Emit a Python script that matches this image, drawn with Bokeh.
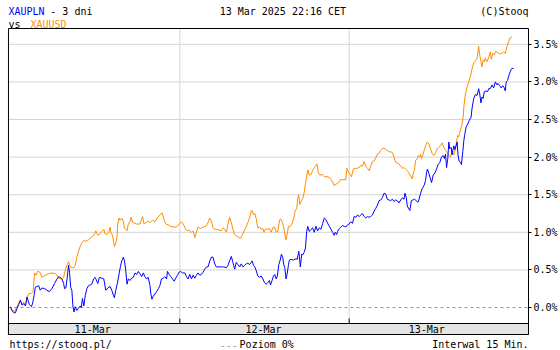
from bokeh.plotting import figure
from bokeh.models import Range1d, LinearAxis, FixedTicker, PrintfTickFormatter
from bokeh.embed import file_html
from bokeh.resources import INLINE
from bokeh.core.properties import value

# ---------------- data (x = 15-minute bar index since 11-Mar open, y = % change) ----
xauusd_bar = [
    0.0, 0.9, 2.4, 3.8, 4.7, 5.6, 6.6, 7.5, 8.5, 9.4, 10.4, 11.9, 12.8, 13.7, 14.5, 15.4, 16.6, 17.9,
    19.8, 21.6, 23.5, 25.4, 26.4, 27.3, 29.2, 30.1, 31.1, 32.0, 32.9, 33.9, 34.8, 35.8, 36.7, 37.6,
    38.6, 39.5, 40.5, 41.4, 42.4, 44.2, 46.1, 47.6, 48.4, 49.5, 50.8, 52.1, 52.9, 53.6, 54.6, 55.9,
    56.5, 57.0, 57.8, 58.4, 58.9, 59.7, 60.4, 60.8, 61.6, 62.1, 63.1, 64.0, 64.6, 65.3, 66.1, 66.8,
    67.8, 68.3, 69.3,
    69.6, 71.5, 73.4, 74.9, 75.7, 76.8, 78.1, 79.1, 80.6, 81.9, 83.2, 84.7, 86.0, 87.0, 88.1, 89.4,
    90.7, 92.2, 94.1, 95.6, 96.9, 97.9, 99.4, 100.1, 101.3, 102.6, 103.5, 104.5, 105.4, 106.3, 107.7,
    109.2, 110.7, 112.0, 112.9, 113.9, 114.8, 115.8, 116.7, 118.2, 119.5, 120.5, 121.4, 122.4, 123.3,
    124.2, 125.2, 126.1, 127.1, 128.0, 128.9, 130.3, 131.4, 132.7, 133.6, 134.6, 135.5, 136.5, 137.0,
    137.8, 138.5,
    139.3, 140.2, 141.2, 142.1, 143.1, 143.6, 144.4, 145.5, 146.8, 147.8, 148.7, 149.7, 150.6, 151.5,
    152.5, 153.0, 153.8, 154.9, 155.7, 156.2, 156.8, 157.6, 158.7, 159.4, 160.6, 161.3, 162.3, 162.8,
    163.4, 164.0, 164.7, 165.7, 166.6, 167.2, 167.9, 168.5, 169.4, 170.4, 171.3, 172.2, 173.2, 173.7,
    174.5, 175.4, 176.6, 177.9, 179.4, 180.7, 181.7, 182.6, 183.5, 184.5, 185.4, 186.4, 186.9, 188.2,
    190.1, 190.7, 191.6, 192.6, 193.3, 194.1, 194.8, 196.3, 197.7, 198.6, 199.5, 200.5, 201.4, 202.4,
    203.3, 204.2, 205.2, 206.1, 207.1, 208.0, 208.9,
    209.9, 210.8, 211.8, 212.7, 213.6, 214.6, 215.5, 216.5, 217.4, 218.4, 219.3, 220.2, 221.2, 222.1,
    223.1, 224.0, 224.9, 225.9, 226.8, 227.8, 228.3, 229.1, 229.6, 230.6, 231.2, 231.9, 232.5, 233.0,
    233.8, 234.5, 235.3, 236.2, 237.2, 238.1, 239.1, 240.0, 241.0, 241.9, 242.8, 243.8, 244.7, 245.6,
    246.6, 247.5, 248.5, 249.4, 250.3, 251.3, 252.2, 252.8, 253.6, 254.1, 254.7, 255.4, 256.0, 256.6,
    257.1, 257.9, 258.8, 259.8, 260.7, 261.6, 262.6, 263.5, 264.5, 265.4, 266.0, 266.7, 267.3, 267.9,
    268.6, 269.2, 270.1, 271.1, 272.0, 272.6, 273.3, 274.3, 275.2, 276.1, 277.1, 278.0, 278.6, 279.5,
    280.5, 281.4, 282.4, 283.3, 284.2,
]
xauusd_pct = [
    0.00, -0.04, -0.05, 0.02, 0.06, 0.09, 0.04, 0.07, 0.03, 0.14, 0.18, 0.19, 0.21, 0.46, 0.43, 0.48,
    0.47, 0.40, 0.43, 0.45, 0.46, 0.45, 0.43, 0.39, 0.38, 0.40, 0.50, 0.56, 0.61, 0.54, 0.53, 0.53,
    0.56, 0.67, 0.75, 0.81, 0.86, 0.89, 0.88, 0.90, 0.94, 0.97, 1.02, 0.96, 0.98, 1.02, 1.04, 0.98,
    0.97, 1.01, 1.07, 0.98, 0.97, 0.88, 0.81, 0.86, 0.94, 1.11, 1.19, 1.16, 1.19, 1.15, 1.06, 1.04,
    1.02, 1.11, 1.14, 1.20, 1.13,
    1.13, 1.11, 1.11, 1.21, 1.11, 1.13, 1.15, 1.13, 1.16, 1.14, 1.19, 1.23, 1.26, 1.17, 1.11, 1.10,
    1.08, 1.07, 1.07, 1.11, 1.14, 1.11, 1.04, 1.02, 1.03, 1.00, 1.02, 0.93, 1.00, 1.07, 1.05, 1.07,
    1.08, 1.13, 1.19, 1.15, 1.06, 1.04, 1.04, 1.03, 1.02, 1.06, 1.04, 1.00, 1.11, 1.20, 1.13, 1.04,
    0.97, 0.95, 0.94, 0.92, 0.96, 1.03, 1.07, 1.13, 1.19, 1.28, 1.29, 1.23, 1.25,
    1.18, 1.06, 1.07, 1.04, 1.05, 1.00, 1.04, 1.04, 1.05, 1.00, 1.06, 1.07, 1.00, 1.01, 1.15, 1.18,
    1.15, 1.07, 0.95, 0.90, 0.97, 1.08, 1.08, 1.10, 1.19, 1.28, 1.32, 1.45, 1.50, 1.37, 1.41, 1.45,
    1.54, 1.65, 1.74, 1.83, 1.76, 1.77, 1.82, 1.86, 1.89, 1.91, 1.79, 1.76, 1.77, 1.74, 1.74, 1.73,
    1.70, 1.67, 1.62, 1.64, 1.65, 1.67, 1.70, 1.70, 1.70, 1.85, 1.80, 1.77, 1.74, 1.82, 1.85, 1.85,
    1.86, 1.89, 1.88, 1.94, 1.88, 1.85, 1.82, 1.88, 1.94, 1.95, 1.99, 2.04, 2.05,
    2.09, 2.11, 2.12, 2.10, 2.09, 2.07, 2.07, 2.06, 2.00, 1.93, 1.92, 1.91, 1.88, 1.85, 1.86, 1.84,
    1.82, 1.79, 1.75, 1.71, 1.78, 1.84, 1.95, 1.98, 2.02, 2.00, 2.04, 1.98, 2.03, 2.09, 2.15, 2.20,
    2.18, 2.11, 2.04, 2.02, 2.06, 2.11, 2.13, 2.15, 2.19, 2.13, 2.09, 2.06, 2.02, 2.00, 2.08, 2.03,
    2.11, 2.20, 2.29, 2.27, 2.33, 2.39, 2.44, 2.53, 2.69, 2.84, 2.93, 3.00, 3.07, 3.17, 3.25, 3.28,
    3.31, 3.47, 3.36, 3.27, 3.20, 3.29, 3.27, 3.32, 3.27, 3.32, 3.40, 3.30, 3.38, 3.36, 3.41, 3.39,
    3.38, 3.37, 3.38, 3.40, 3.38, 3.47, 3.54, 3.59, 3.60,
]

xaupln_bar = [
    0.0, 0.9, 1.9, 2.8, 3.8, 4.7, 5.6, 6.6, 7.5, 8.5, 9.4, 10.0, 10.7, 11.9, 12.6, 13.4, 14.1, 15.1,
    16.0, 16.9, 17.9, 19.4, 20.7, 22.0, 23.5, 25.0, 26.4, 27.3, 28.2, 29.2, 30.1, 30.7, 31.4, 32.2,
    32.9, 33.5, 34.1, 34.8, 35.4, 36.0, 36.7, 37.6, 38.6, 39.5, 40.1, 40.8, 41.6, 42.4, 43.3, 44.2,
    45.2, 46.1, 47.1, 48.0, 48.6, 49.5, 50.4, 51.8, 52.9, 54.0, 55.2, 56.5, 57.4, 58.4, 58.9, 59.7,
    60.6, 61.6, 62.3, 63.1, 64.0, 64.6, 65.3, 66.1, 66.8, 67.8, 68.7, 69.6,
    70.6, 71.5, 72.5, 73.4, 74.4, 75.3, 76.2, 77.2, 78.1, 79.1, 79.6, 80.2, 80.9, 81.9, 82.8, 83.8,
    84.7, 85.6, 86.6, 87.5, 88.5, 89.0, 90.0, 90.9, 91.9, 92.8, 93.7, 94.7, 95.6, 96.4, 97.5, 98.8,
    99.8, 100.7, 101.6, 102.6, 103.5, 104.5, 105.4, 106.3, 107.3, 108.2, 109.2, 110.1, 111.1, 112.0,
    113.0, 113.9, 114.8, 115.8, 116.7, 118.2, 119.5, 120.8, 122.4, 123.3, 124.2, 125.2, 126.1, 127.1,
    128.0, 128.9, 129.9, 130.8, 131.8, 132.7, 133.6, 134.6, 135.5, 136.5, 137.0, 137.8, 138.5, 139.3,
    140.2, 141.2, 142.1, 143.1, 144.0, 144.9, 145.9, 146.8, 147.4, 148.3, 149.1, 149.8, 150.6, 151.3,
    152.1, 152.9, 153.6, 154.4, 154.9, 155.5, 156.2, 156.8, 157.6, 158.1, 159.1, 160.4, 161.9, 162.6,
    163.4, 163.8, 164.3, 165.1, 165.7, 166.4, 167.2, 167.9, 168.5, 169.4, 170.4, 171.3, 172.2, 173.2,
    174.1, 175.1, 176.0, 177.0, 177.9, 178.8, 179.8, 180.7, 181.7, 182.6, 183.5, 184.1, 184.9, 185.4,
    186.4, 187.3, 188.2, 189.2, 190.1, 191.1, 192.0, 192.9, 193.9, 194.8, 195.8, 196.7, 197.7, 198.6,
    199.5, 200.5, 201.4, 202.4, 203.3, 204.2, 205.2, 206.1, 207.1, 208.0, 208.9,
    209.9, 210.8, 211.8, 212.7, 213.6, 214.6, 215.5, 216.5, 217.4, 218.4, 219.3, 220.2, 221.2, 222.1,
    223.1, 223.6, 224.4, 224.9, 225.9, 226.4, 227.2, 228.1, 229.1, 230.0, 231.0, 231.5, 232.5, 233.4,
    234.4, 235.3, 235.9, 236.4, 237.2, 238.1, 238.7, 239.6, 240.6, 241.5, 242.4, 243.4, 244.3, 245.3,
    246.0, 246.6, 247.2, 247.9, 248.5, 249.0, 249.8, 250.3, 251.3, 251.9, 252.6, 253.2, 253.7, 254.3,
    255.1, 255.6, 256.4, 257.0, 257.5, 258.3, 259.2, 260.1, 261.1, 261.6, 262.6, 263.5, 264.5, 265.4,
    266.0, 266.7, 267.3, 267.9, 268.6, 269.6, 270.5, 271.1, 272.0, 273.0, 273.9, 274.8, 275.8, 276.3,
    277.3, 278.2, 279.0, 279.7, 280.5, 281.0, 281.8, 282.7, 283.7, 284.2, 285.2,
]
xaupln_pct = [
    0.01, -0.04, -0.07, -0.07, -0.01, 0.04, 0.10, 0.03, 0.05, 0.02, 0.14, 0.09, 0.04, 0.01, 0.06, 0.16,
    0.27, 0.28, 0.29, 0.23, 0.26, 0.25, 0.23, 0.21, 0.25, 0.32, 0.38, 0.41, 0.40, 0.38, 0.32, 0.25,
    0.26, 0.40, 0.56, 0.47, 0.27, 0.23, 0.02, -0.06, 0.01, -0.04, -0.01, 0.02, 0.00, 0.12, 0.02, 0.16,
    0.25, 0.29, 0.30, 0.31, 0.38, 0.40, 0.37, 0.32, 0.40, 0.39, 0.38, 0.23, 0.26, 0.28, 0.23, 0.16,
    0.13, 0.23, 0.32, 0.45, 0.54, 0.62, 0.67, 0.62, 0.50, 0.31, 0.38, 0.36, 0.39, 0.40,
    0.46, 0.44, 0.48, 0.45, 0.41, 0.46, 0.41, 0.38, 0.40, 0.29, 0.18, 0.11, 0.15, 0.18, 0.21, 0.25,
    0.29, 0.38, 0.39, 0.41, 0.38, 0.48, 0.44, 0.41, 0.38, 0.35, 0.39, 0.43, 0.47, 0.48, 0.46, 0.46,
    0.41, 0.38, 0.44, 0.38, 0.43, 0.39, 0.43, 0.46, 0.43, 0.44, 0.47, 0.51, 0.54, 0.54, 0.62, 0.67,
    0.67, 0.58, 0.54, 0.54, 0.54, 0.54, 0.53, 0.56, 0.62, 0.68, 0.60, 0.51, 0.60, 0.57, 0.54, 0.58,
    0.54, 0.56, 0.58, 0.59, 0.57, 0.60, 0.62, 0.56, 0.54, 0.49,
    0.42, 0.40, 0.42, 0.38, 0.33, 0.31, 0.33, 0.36, 0.30, 0.36, 0.42, 0.44, 0.38, 0.42, 0.57, 0.63,
    0.71, 0.66, 0.57, 0.53, 0.38, 0.44, 0.57, 0.63, 0.64, 0.63, 0.65, 0.64, 0.75, 0.68, 0.54, 0.71,
    0.70, 0.73, 0.79, 1.01, 1.08, 1.01, 1.04, 1.06, 1.00, 1.08, 1.02, 1.06, 1.04, 1.12, 1.19, 1.17,
    1.12, 1.08, 1.04, 1.00, 0.96, 1.00, 0.97, 1.01, 1.05, 1.07, 1.09, 1.08, 1.07, 1.10, 1.11, 1.14,
    1.12, 1.21, 1.20, 1.23, 1.21, 1.23, 1.25, 1.21, 1.19, 1.21, 1.20, 1.21, 1.23, 1.28, 1.32, 1.36,
    1.42,
    1.43, 1.46, 1.52, 1.51, 1.44, 1.43, 1.42, 1.44, 1.41, 1.43, 1.42, 1.39, 1.43, 1.46, 1.44, 1.52,
    1.46, 1.35, 1.31, 1.29, 1.42, 1.43, 1.44, 1.42, 1.40, 1.43, 1.52, 1.58, 1.62, 1.69, 1.80, 1.84,
    1.78, 1.71, 1.66, 1.76, 1.79, 1.84, 1.90, 1.93, 2.00, 2.02, 1.98, 2.04, 1.86, 1.98, 2.20, 2.11,
    2.13, 2.03, 2.15, 2.10, 2.15, 2.20, 2.03, 1.95, 1.93, 1.90, 2.07, 2.22, 2.30, 2.40, 2.44, 2.49,
    2.53, 2.64, 2.78, 2.83, 2.82, 2.91, 2.84, 2.72, 2.80, 2.78, 2.87, 2.88, 2.87, 2.91, 2.91, 2.96,
    2.92, 3.00, 2.96, 2.98, 2.95, 2.92, 2.95, 2.93, 2.88, 3.00, 3.02, 3.10, 3.16, 3.18, 3.18,
]

day_labels = ["11-Mar", "12-Mar", "13-Mar"]
day_label_bar = [46.6, 143.4, 236.0]
day_break_bar = [96, 192]
pct_ticks = [0.0, 0.5, 1.0, 1.5, 2.0, 2.5, 3.0, 3.5]
grid_ticks = [0.5, 1.0, 1.5, 2.0, 2.5, 3.0, 3.5]

n = min(len(xauusd_bar), len(xauusd_pct))
xauusd_bar, xauusd_pct = xauusd_bar[:n], xauusd_pct[:n]
n = min(len(xaupln_bar), len(xaupln_pct))
xaupln_bar, xaupln_pct = xaupln_bar[:n], xaupln_pct[:n]

# ---------------- layout (one figure, frame = whole canvas left of the axis) ----------------
FONT = "DejaVu Sans Mono"
FS = "10px"
BLUE = "#0000ff"
ORANGE = "#ff8c00"
GRID = "#d4d4d4"
BAND = "#e4e4e4"
W, H = 560, 350
FRAME_W = 530                  # right axis occupies the last 30 px
PX_PER_BAR = 170 / 96          # horizontal scale
PX_PER_PCT = 75.2              # vertical scale
BAR0_CX, ZERO_CY = 10, 307     # canvas position of bar 0 / of 0 %


def X(cx):                     # canvas px -> data x
    return (cx - BAR0_CX) / PX_PER_BAR


def Y(cy):                     # canvas px (from top) -> data y
    return (ZERO_CY - cy) / PX_PER_PCT


box_l, box_r, box_t, box_b = X(8), X(FRAME_W), Y(28), Y(334)
band_top = Y(323)
tick_top = Y(318)

p = figure(width=W, height=H, output_backend="svg", toolbar_location=None,
           x_range=Range1d(X(0), X(FRAME_W)), y_range=Range1d(Y(H), Y(0)),
           x_axis_location=None, y_axis_location=None,
           min_border_left=0, min_border_right=W - FRAME_W, min_border_top=0, min_border_bottom=0)
p.grid.visible = False
p.outline_line_color = None
p.background_fill_color = "white"
p.border_fill_color = "white"

# grid
p.segment(x0=[box_l] * len(grid_ticks), x1=[box_r] * len(grid_ticks), y0=grid_ticks, y1=grid_ticks,
          line_color=GRID, line_width=1)
p.segment(x0=day_break_bar, x1=day_break_bar, y0=[band_top] * 2, y1=[box_t] * 2,
          line_color=GRID, line_width=1)
p.segment(x0=[box_l], x1=[box_r], y0=[0], y1=[0], line_color="#999999", line_dash="3 3", line_width=1)

# date band
p.quad(left=[box_l], right=[box_r], top=[band_top], bottom=[box_b], fill_color=BAND,
       line_color="black", line_width=1)
p.segment(x0=day_break_bar, x1=day_break_bar, y0=[band_top] * 2, y1=[tick_top] * 2,
          line_color="black", line_width=1)
p.text(x=day_label_bar, y=[(band_top + box_b) / 2] * 3, text=day_labels, text_align="center",
       text_baseline="middle", text_font=value(FONT), text_font_size=FS, text_color="black")

# series
p.line(xauusd_bar, xauusd_pct, line_color=ORANGE, line_width=1)
p.line(xaupln_bar, xaupln_pct, line_color=BLUE, line_width=1)

# plot box outline
p.quad(left=[box_l], right=[box_r], top=[box_t], bottom=[box_b], fill_color=None,
       line_color="black", line_width=1)

ax = LinearAxis(ticker=FixedTicker(ticks=pct_ticks), formatter=PrintfTickFormatter(format="%.1f%%"),
                bounds=(box_b, box_t),
                major_tick_out=3, major_tick_in=0, minor_tick_out=0, minor_tick_in=0,
                major_label_standoff=2, axis_line_color="black", major_tick_line_color="black",
                major_label_text_font=FONT, major_label_text_font_size=FS,
                major_label_text_color="black")
p.add_layout(ax, "right")


def put(cx, cy, text, color="black", align="left"):
    p.text(x=[X(cx)], y=[Y(cy)], text=[text], text_color=color, text_font=value(FONT),
           text_font_size=FS, text_align=align, text_baseline="alphabetic")


# header
put(8, 10.5, "XAUPLN", BLUE)
put(50, 10.5, "- 3 dni")
put(220, 10.5, "13 Mar 2025 22:16 CET")
put(530, 10.5, "(C)Stooq", align="right")
put(8, 23.5, "vs")
put(30, 23.5, "XAUUSD", ORANGE)
# footer
put(9, 344, "https://stooq.pl/")
put(220, 344, "---", "#999999")
put(240, 344, "Poziom 0%")
put(530, 344, "Interwal 15 Min.", align="right")

open("out.html", "w").write(file_html(p, INLINE))
